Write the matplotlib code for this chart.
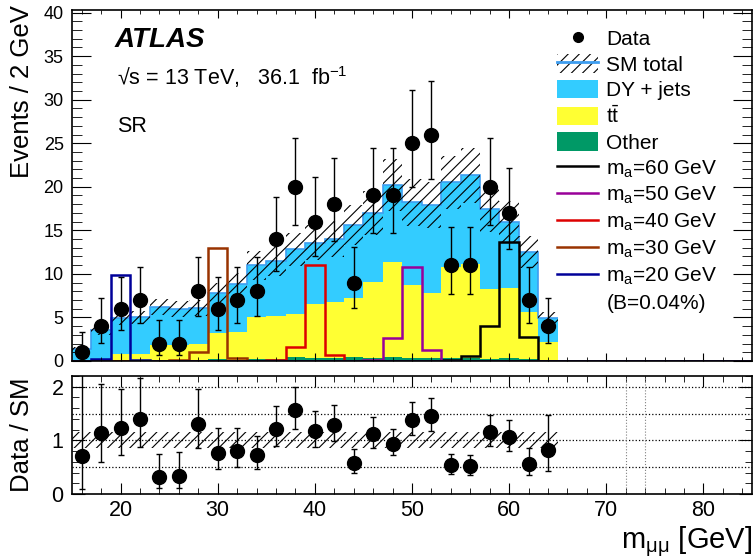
import numpy as np
import matplotlib
matplotlib.use('Agg')
import matplotlib.pyplot as plt
from matplotlib.patches import Patch
from matplotlib.lines import Line2D
from matplotlib.ticker import MultipleLocator

plt.rcParams['font.family'] = ['Liberation Sans', 'DejaVu Sans']
plt.rcParams['mathtext.fontset'] = 'custom'
plt.rcParams['mathtext.rm'] = 'Liberation Sans'
plt.rcParams['mathtext.it'] = 'Liberation Sans:italic'
plt.rcParams['mathtext.bf'] = 'Liberation Sans:bold'
plt.rcParams['hatch.linewidth'] = 0.8

# bins de 2 GeV, de 15 a 65 GeV
edges = np.arange(15, 67, 2)
centers = np.arange(16, 66, 2)

data = [1, 4, 6, 7, 2, 2, 8, 6, 7, 8, 14, 20, 16, 18, 9, 19, 19, 25, 26, 11, 11, 20, 17, 7, 4]

other = [0.0, 0.0, 0.05, 0.05, 0.1, 0.1, 0.15, 0.2, 0.15, 0.2, 0.2, 0.45, 0.3,
         0.35, 0.45, 0.3, 0.4, 0.35, 0.3, 0.3, 0.35, 0.25, 0.3, 0.2, 0.1]
ttbar = [0.1, 0.1, 0.8, 0.8, 1.75, 1.75, 1.8, 3.0, 3.15, 4.9, 5.0, 4.95, 6.2,
         6.45, 6.75, 8.8, 11.0, 8.35, 7.5, 10.5, 10.75, 8.05, 8.1, 5.4, 2.1]
dyjets = [1.3, 3.4, 4.05, 4.15, 4.35, 4.15, 4.15, 4.6, 5.5, 5.9, 6.3, 7.4, 7.1,
          7.2, 8.4, 7.9, 8.8, 9.5, 10.1, 9.7, 10.2, 9.1, 7.6, 6.9, 2.7]
sm_unc = [0.15] * 25  # incerteza relativa do SM

# sinais (mesmos bins)
sig20 = [0, 0.2, 9.9, 0.1, 0, 0, 0, 0, 0, 0, 0, 0, 0, 0, 0, 0, 0, 0, 0, 0, 0, 0, 0, 0, 0]
sig30 = [0, 0, 0, 0, 0, 0.1, 1.0, 13.0, 0.3, 0, 0, 0, 0, 0, 0, 0, 0, 0, 0, 0, 0, 0, 0, 0, 0]
sig40 = [0, 0, 0, 0, 0, 0, 0, 0, 0, 0, 0.1, 1.6, 11.0, 0.7, 0, 0, 0, 0, 0, 0, 0, 0, 0, 0, 0]
sig50 = [0, 0, 0, 0, 0, 0, 0, 0, 0, 0, 0, 0, 0, 0, 0, 0.15, 2.6, 10.8, 1.3, 0, 0, 0, 0, 0, 0]
sig60 = [0, 0, 0, 0, 0, 0, 0, 0, 0, 0, 0, 0, 0, 0, 0, 0, 0, 0, 0, 0.15, 0.55, 4.0, 13.7, 2.7, 0]

c_dy = '#33ccff'
c_tt = '#ffff33'
c_other = '#009966'
c_smline = '#3d9df0'

data = np.array(data, float)
other = np.array(other)
ttbar = np.array(ttbar)
dyjets = np.array(dyjets)
sm_unc = np.array(sm_unc)
total = other + ttbar + dyjets

# erros de Poisson (aproximacao de Gehrels)
err_lo = np.sqrt(data - 0.25)
err_hi = np.sqrt(data + 0.75) + 1

fig = plt.figure(figsize=(7.56, 5.6), dpi=100)
ax = fig.add_axes([0.0952, 0.3554, 0.8995, 0.6268])
ax2 = fig.add_axes([0.0952, 0.1179, 0.8995, 0.2107])

# pilha de fundo
ax.stairs(other, edges, baseline=0, fill=True, color=c_other, lw=0)
ax.stairs(other + ttbar, edges, baseline=other, fill=True, color=c_tt, lw=0)
ax.stairs(total, edges, baseline=other + ttbar, fill=True, color=c_dy, lw=0)
ax.stairs(total, edges, baseline=None, color=c_smline, lw=1.2)
ax.stairs(total * (1 + sm_unc), edges, baseline=total * (1 - sm_unc), fill=True,
          facecolor='none', edgecolor='k', hatch='///', lw=0)

# sinais
sig_edges = np.arange(15, 87, 2)
pad = np.zeros(len(sig_edges) - 1 - 25)
for sig, col in [(sig60, 'black'), (sig50, '#990099'), (sig40, '#dd0000'),
                 (sig30, '#993300'), (sig20, '#000099')]:
    ax.stairs(np.concatenate([sig, pad]), sig_edges, baseline=None, color=col, lw=1.8)

ax.errorbar(centers, data, yerr=[err_lo, err_hi], fmt='o', color='k', ms=10,
            elinewidth=1, capsize=2.5, capthick=1, zorder=5)

ax.set_xlim(15, 85)
ax.set_ylim(0, 40.3)
ax.xaxis.set_major_locator(MultipleLocator(10))
ax.xaxis.set_minor_locator(MultipleLocator(2))
ax.yaxis.set_major_locator(MultipleLocator(5))
ax.yaxis.set_minor_locator(MultipleLocator(1))
ax.tick_params(which='both', direction='in', top=True, right=True, labelbottom=False)
ax.tick_params(axis='y', which='major', length=14, labelsize=13, pad=6)
ax.tick_params(axis='y', which='minor', length=7)
ax.tick_params(axis='x', which='major', length=5.5)
ax.tick_params(axis='x', which='minor', length=3)

ax.text(0.063, 0.895, 'ATLAS', transform=ax.transAxes, fontsize=20,
        fontweight='bold', fontstyle='italic', va='baseline')
ax.text(0.066, 0.786, '√s = 13 TeV,   36.1  fb$^{\\mathrm{-1}}$', transform=ax.transAxes,
        fontsize=15.5, va='baseline')
ax.text(0.066, 0.653, 'SR', transform=ax.transAxes, fontsize=15.5, va='baseline')

handles = [
    Line2D([], [], marker='o', color='k', ls='none', ms=7),
    (Patch(facecolor='none', edgecolor='k', hatch='///', lw=0),
     Line2D([], [], color=c_smline, lw=2)),
    Patch(facecolor=c_dy, lw=0),
    Patch(facecolor=c_tt, lw=0),
    Patch(facecolor=c_other, lw=0),
    Line2D([], [], color='black', lw=1.8),
    Line2D([], [], color='#990099', lw=1.8),
    Line2D([], [], color='#dd0000', lw=1.8),
    Line2D([], [], color='#993300', lw=1.8),
    Line2D([], [], color='#000099', lw=1.8),
    Line2D([], [], color='none'),
]
labels = ['Data', 'SM total', 'DY + jets', 't$\\bar{\\mathrm{t}}$', 'Other',
          'm$_{\\mathrm{a}}$=60 GeV', 'm$_{\\mathrm{a}}$=50 GeV', 'm$_{\\mathrm{a}}$=40 GeV',
          'm$_{\\mathrm{a}}$=30 GeV', 'm$_{\\mathrm{a}}$=20 GeV', '(B=0.04%)']
ax.legend(handles, labels, loc='upper left', bbox_to_anchor=(0.713, 0.947),
          frameon=False, fontsize=15, handlelength=2.0, handleheight=1.0,
          handletextpad=0.38, labelspacing=0.245, borderaxespad=0, borderpad=0)

# painel de razao
ratio = data / total
ax2.stairs(1 + sm_unc, edges, baseline=1 - sm_unc, fill=True,
           facecolor='none', edgecolor='k', hatch='///', lw=0)
for yv in [0.5, 1, 1.5, 2]:
    ax2.axhline(yv, color='k', ls=':', lw=0.9)
for xv in [72, 74]:
    ax2.axvline(xv, color='0.5', ls=':', lw=0.8)
ax2.errorbar(centers, ratio, yerr=[err_lo / total, err_hi / total], fmt='o', color='k',
             ms=10, elinewidth=1, capsize=2.5, capthick=1, zorder=5)

ax2.set_xlim(15, 85)
ax2.set_ylim(0, 2.2)
ax2.xaxis.set_major_locator(MultipleLocator(10))
ax2.xaxis.set_minor_locator(MultipleLocator(2))
ax2.yaxis.set_major_locator(MultipleLocator(1))
ax2.yaxis.set_minor_locator(MultipleLocator(0.2))
ax2.tick_params(which='both', direction='in', top=True, right=True, labelsize=15.5)
ax2.tick_params(axis='x', which='major', length=8, pad=4)
ax2.tick_params(axis='x', which='minor', length=4)
ax2.tick_params(axis='y', which='major', length=9.5, pad=6)
ax2.tick_params(axis='y', which='minor', length=5)

for a in (ax, ax2):
    for s in a.spines.values():
        s.set_linewidth(1.2)

fig.text(22 / 756, 1 - 5 / 560, 'Events / 2 GeV', rotation=90, ha='center', va='top', fontsize=18.5)
fig.text(22 / 756, 1 - 435 / 560, 'Data / SM', rotation=90, ha='center', va='center', fontsize=18.5)
fig.text(752 / 756, 1 - 548 / 560, 'm$_{\\mathrm{μμ}}$ [GeV]', ha='right', va='baseline', fontsize=21)

fig.savefig('out.png', dpi=100)
